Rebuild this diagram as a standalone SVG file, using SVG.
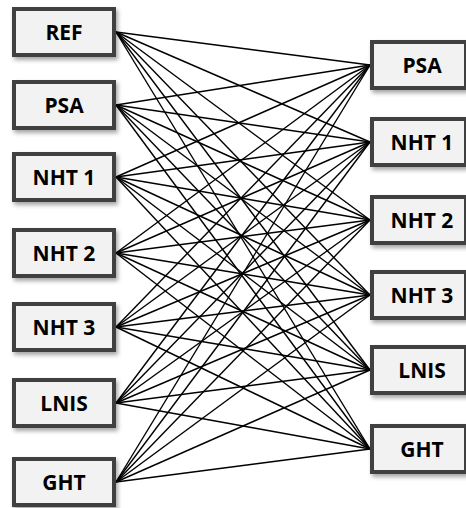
<svg xmlns="http://www.w3.org/2000/svg" width="466" height="508" viewBox="0 0 466 508">
<style>
.box{fill:#f2f2f2;stroke:#404040;stroke-width:4;filter:url(#sh)}
.lbl{font-family:"Open Sans","Liberation Sans",sans-serif;font-weight:bold;font-size:21px;fill:#000;text-anchor:middle;dominant-baseline:central}
.edges line{stroke:#000;stroke-width:1.4}
</style>
<defs>
<filter id="sh" x="-20%" y="-20%" width="150%" height="160%">
<feDropShadow dx="2" dy="3" stdDeviation="2" flood-color="#000" flood-opacity="0.35"/>
</filter>
</defs>
<rect width="466" height="508" fill="#fff"/>
<g class="edges" id="connectors">
<line x1="116" y1="32" x2="370" y2="65"/><line x1="116" y1="32" x2="370" y2="142"/><line x1="116" y1="32" x2="370" y2="220"/><line x1="116" y1="32" x2="370" y2="295"/><line x1="116" y1="32" x2="370" y2="370"/><line x1="116" y1="32" x2="370" y2="449"/>
<line x1="116" y1="105" x2="370" y2="65"/><line x1="116" y1="105" x2="370" y2="142"/><line x1="116" y1="105" x2="370" y2="220"/><line x1="116" y1="105" x2="370" y2="295"/><line x1="116" y1="105" x2="370" y2="370"/><line x1="116" y1="105" x2="370" y2="449"/>
<line x1="116" y1="177" x2="370" y2="65"/><line x1="116" y1="177" x2="370" y2="142"/><line x1="116" y1="177" x2="370" y2="220"/><line x1="116" y1="177" x2="370" y2="295"/><line x1="116" y1="177" x2="370" y2="370"/><line x1="116" y1="177" x2="370" y2="449"/>
<line x1="116" y1="253" x2="370" y2="65"/><line x1="116" y1="253" x2="370" y2="142"/><line x1="116" y1="253" x2="370" y2="220"/><line x1="116" y1="253" x2="370" y2="295"/><line x1="116" y1="253" x2="370" y2="370"/><line x1="116" y1="253" x2="370" y2="449"/>
<line x1="116" y1="327" x2="370" y2="65"/><line x1="116" y1="327" x2="370" y2="142"/><line x1="116" y1="327" x2="370" y2="220"/><line x1="116" y1="327" x2="370" y2="295"/><line x1="116" y1="327" x2="370" y2="370"/><line x1="116" y1="327" x2="370" y2="449"/>
<line x1="116" y1="403" x2="370" y2="65"/><line x1="116" y1="403" x2="370" y2="142"/><line x1="116" y1="403" x2="370" y2="220"/><line x1="116" y1="403" x2="370" y2="295"/><line x1="116" y1="403" x2="370" y2="370"/><line x1="116" y1="403" x2="370" y2="449"/>
<line x1="116" y1="482" x2="370" y2="65"/><line x1="116" y1="482" x2="370" y2="142"/><line x1="116" y1="482" x2="370" y2="220"/><line x1="116" y1="482" x2="370" y2="295"/><line x1="116" y1="482" x2="370" y2="370"/><line x1="116" y1="482" x2="370" y2="449"/>
</g>
<g id="L-REF"><rect class="box" x="14" y="9" width="100" height="46"/><text class="lbl" x="64" y="32">REF</text></g>
<g id="L-PSA"><rect class="box" x="14" y="82" width="100" height="46"/><text class="lbl" x="64" y="105">PSA</text></g>
<g id="L-NHT1"><rect class="box" x="14" y="154" width="100" height="46"/><text class="lbl" x="64" y="177">NHT 1</text></g>
<g id="L-NHT2"><rect class="box" x="14" y="230" width="100" height="46"/><text class="lbl" x="64" y="253">NHT 2</text></g>
<g id="L-NHT3"><rect class="box" x="14" y="304" width="100" height="46"/><text class="lbl" x="64" y="327">NHT 3</text></g>
<g id="L-LNIS"><rect class="box" x="14" y="380" width="100" height="46"/><text class="lbl" x="64" y="403">LNIS</text></g>
<g id="L-GHT"><rect class="box" x="14" y="459" width="100" height="46"/><text class="lbl" x="64" y="482">GHT</text></g>
<g id="R-PSA"><rect class="box" x="372" y="42" width="94" height="46"/><text class="lbl" x="422" y="65">PSA</text></g>
<g id="R-NHT1"><rect class="box" x="372" y="119" width="94" height="46"/><text class="lbl" x="422" y="142">NHT 1</text></g>
<g id="R-NHT2"><rect class="box" x="372" y="197" width="94" height="46"/><text class="lbl" x="422" y="220">NHT 2</text></g>
<g id="R-NHT3"><rect class="box" x="372" y="272" width="94" height="46"/><text class="lbl" x="422" y="295">NHT 3</text></g>
<g id="R-LNIS"><rect class="box" x="372" y="347" width="94" height="46"/><text class="lbl" x="422" y="370">LNIS</text></g>
<g id="R-GHT"><rect class="box" x="372" y="426" width="94" height="46"/><text class="lbl" x="422" y="449">GHT</text></g>
</svg>
